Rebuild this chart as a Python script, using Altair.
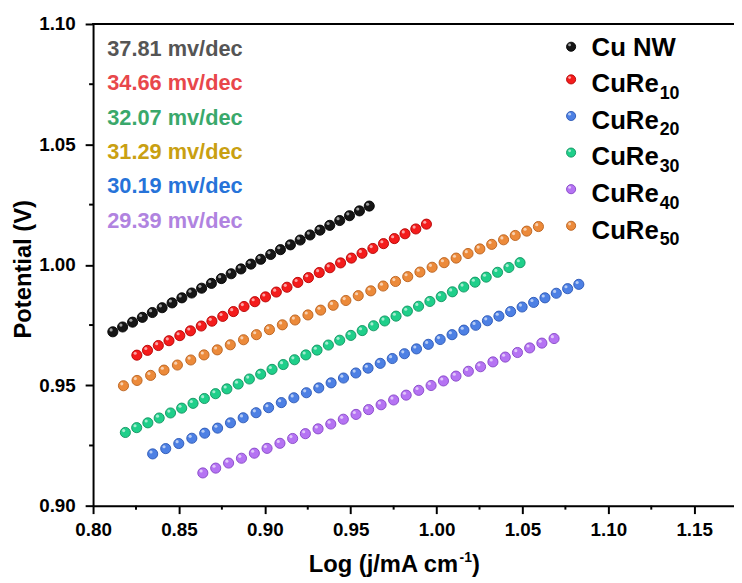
import altair as alt
import pandas as pd

# ---------------- data ----------------
cunw_x = [0.8115, 0.8172, 0.8230, 0.8287, 0.8345, 0.8402, 0.8460, 0.8517, 0.8574, 0.8632,
          0.8689, 0.8747, 0.8804, 0.8861, 0.8919, 0.8976, 0.9034, 0.9091, 0.9149, 0.9206,
          0.9263, 0.9321, 0.9378, 0.9436, 0.9493, 0.9551, 0.9608]
cunw_y = [0.9722, 0.9742, 0.9762, 0.9782, 0.9802, 0.9822, 0.9842, 0.9863, 0.9883, 0.9903,
          0.9923, 0.9943, 0.9963, 0.9983, 1.0003, 1.0023, 1.0043, 1.0063, 1.0083, 1.0103,
          1.0124, 1.0144, 1.0164, 1.0184, 1.0204, 1.0224, 1.0244]

cure10_x = [0.8255, 0.8317, 0.8380, 0.8442, 0.8505, 0.8567, 0.8630, 0.8692, 0.8755, 0.8817,
            0.8879, 0.8942, 0.9004, 0.9067, 0.9129, 0.9192, 0.9254, 0.9317, 0.9379, 0.9441,
            0.9504, 0.9566, 0.9629, 0.9691, 0.9754, 0.9816, 0.9879, 0.9941]
cure10_y = [0.9625, 0.9645, 0.9665, 0.9685, 0.9706, 0.9726, 0.9746, 0.9766, 0.9786, 0.9806,
            0.9827, 0.9847, 0.9867, 0.9887, 0.9907, 0.9927, 0.9947, 0.9968, 0.9988, 1.0008,
            1.0028, 1.0048, 1.0068, 1.0088, 1.0109, 1.0129, 1.0149, 1.0169]

cure20_x = [0.8347, 0.8423, 0.8499, 0.8575, 0.8650, 0.8725, 0.8800, 0.8874, 0.8949, 0.9022,
            0.9096, 0.9169, 0.9242, 0.9314, 0.9386, 0.9458, 0.9530, 0.9601, 0.9672, 0.9742,
            0.9813, 0.9883, 0.9952, 1.0021, 1.0090, 1.0159, 1.0228, 1.0296, 1.0363, 1.0431,
            1.0498, 1.0565, 1.0631, 1.0697, 1.0763, 1.0828]
cure20_y = [0.9215, 0.9237, 0.9258, 0.9280, 0.9301, 0.9322, 0.9344, 0.9365, 0.9386, 0.9407,
            0.9428, 0.9448, 0.9469, 0.9489, 0.9510, 0.9530, 0.9551, 0.9571, 0.9591, 0.9611,
            0.9631, 0.9651, 0.9670, 0.9690, 0.9710, 0.9729, 0.9749, 0.9768, 0.9787, 0.9806,
            0.9825, 0.9844, 0.9863, 0.9882, 0.9901, 0.9919]

cure30_x = [0.8188, 0.8254, 0.8319, 0.8385, 0.8451, 0.8516, 0.8582, 0.8648, 0.8713, 0.8779,
            0.8845, 0.8910, 0.8976, 0.9042, 0.9107, 0.9173, 0.9239, 0.9304, 0.9370, 0.9436,
            0.9501, 0.9567, 0.9633, 0.9698, 0.9764, 0.9830, 0.9895, 0.9961, 1.0027, 1.0092,
            1.0158, 1.0224, 1.0289, 1.0355, 1.0421, 1.0486]
cure30_y = [0.9304, 0.9324, 0.9344, 0.9364, 0.9385, 0.9405, 0.9425, 0.9445, 0.9465, 0.9485,
            0.9505, 0.9526, 0.9546, 0.9566, 0.9586, 0.9606, 0.9626, 0.9646, 0.9667, 0.9687,
            0.9707, 0.9727, 0.9747, 0.9767, 0.9787, 0.9808, 0.9828, 0.9848, 0.9868, 0.9888,
            0.9908, 0.9928, 0.9949, 0.9969, 0.9989, 1.0009]

cure40_x = [0.8639, 0.8714, 0.8789, 0.8864, 0.8939, 0.9013, 0.9088, 0.9162, 0.9236, 0.9310,
            0.9384, 0.9457, 0.9531, 0.9604, 0.9677, 0.9750, 0.9823, 0.9896, 0.9968, 1.0040,
            1.0113, 1.0185, 1.0256, 1.0328, 1.0400, 1.0471, 1.0542, 1.0613, 1.0684]
cure40_y = [0.9136, 0.9156, 0.9177, 0.9197, 0.9218, 0.9238, 0.9259, 0.9279, 0.9299, 0.9319,
            0.9339, 0.9359, 0.9379, 0.9399, 0.9419, 0.9439, 0.9459, 0.9479, 0.9499, 0.9518,
            0.9538, 0.9558, 0.9577, 0.9597, 0.9617, 0.9636, 0.9655, 0.9675, 0.9694]

cure50_x = [0.8177, 0.8256, 0.8335, 0.8413, 0.8491, 0.8569, 0.8646, 0.8723, 0.8799, 0.8876,
            0.8951, 0.9027, 0.9102, 0.9176, 0.9251, 0.9325, 0.9398, 0.9472, 0.9544, 0.9617,
            0.9689, 0.9761, 0.9832, 0.9903, 0.9974, 1.0044, 1.0114, 1.0183, 1.0252, 1.0321,
            1.0390, 1.0458, 1.0525, 1.0593]
cure50_y = [0.9498, 0.9520, 0.9541, 0.9563, 0.9584, 0.9605, 0.9626, 0.9647, 0.9668, 0.9689,
            0.9710, 0.9731, 0.9751, 0.9771, 0.9792, 0.9812, 0.9832, 0.9852, 0.9872, 0.9892,
            0.9912, 0.9931, 0.9951, 0.9970, 0.9990, 1.0009, 1.0028, 1.0047, 1.0066, 1.0085,
            1.0104, 1.0122, 1.0140, 1.0159]

series_names = ["Cu NW", "CuRe10", "CuRe20", "CuRe30", "CuRe40", "CuRe50"]
series_fill = ["#161616", "#f41c1c", "#4d80e4", "#1fcf8a", "#b573f3", "#ec8a3a"]
series_edge = ["#000000", "#b30000", "#2a56b3", "#10925f", "#8445c6", "#b8601c"]
legend_main = ["Cu NW", "CuRe", "CuRe", "CuRe", "CuRe", "CuRe"]
legend_sub = ["", "10", "20", "30", "40", "50"]

slope_labels = ["37.81 mv/dec", "34.66 mv/dec", "32.07 mv/dec",
                "31.29 mv/dec", "30.19 mv/dec", "29.39 mv/dec"]
slope_colors = ["#555555", "#e8474b", "#3aa86b", "#c9a012", "#2673d9", "#b083e0"]

x_ticks = [0.80, 0.85, 0.90, 0.95, 1.00, 1.05, 1.10, 1.15]
x_minor = [0.825, 0.875, 0.925, 0.975, 1.025, 1.075, 1.125]
y_ticks = [0.90, 0.95, 1.00, 1.05, 1.10]
y_minor = [0.925, 0.975, 1.025, 1.075]

x_title = "Log (j/mA cm"
x_title_sup = "-1"
x_title_end = ")"
y_title = "Potential (V)"

# ---------------- chart ----------------
FONT = "Liberation Sans, Arial, Helvetica, sans-serif"
W, H = 648, 487
X_DOMAIN = [0.80, 0.80 + W / 1736.5]
Y_DOMAIN = [0.90, 1.10]

xs = [cunw_x, cure10_x, cure20_x, cure30_x, cure40_x, cure50_x]
ys = [cunw_y, cure10_y, cure20_y, cure30_y, cure40_y, cure50_y]
rows = []
for name, xv, yv in zip(series_names, xs, ys):
    for a, b in zip(xv, yv):
        rows.append({"series": name, "x": a, "y": b})
df = pd.DataFrame(rows)

xscale = alt.Scale(domain=X_DOMAIN, nice=False, zero=False)
yscale = alt.Scale(domain=Y_DOMAIN, nice=False, zero=False)

axis_common = dict(tickSize=8, tickWidth=2, tickColor="black", domainWidth=2,
                   domainColor="black", labelFontSize=19, labelFontWeight="bold",
                   labelFont=FONT, labelColor="black", grid=False, title=None,
                   labelFlush=False, labelOverlap=False, format=".2f")

x_enc = alt.X("x:Q", scale=xscale, axis=alt.Axis(values=x_ticks, labelPadding=7, **axis_common))
y_enc = alt.Y("y:Q", scale=yscale, axis=alt.Axis(values=y_ticks, labelPadding=10, **axis_common))

fill_scale = alt.Scale(domain=series_names, range=series_fill)
edge_scale = alt.Scale(domain=series_names, range=series_edge)

base_pts = alt.Chart(df).mark_circle(size=105, opacity=1, strokeWidth=0.9).encode(
    x=x_enc, y=y_enc,
    color=alt.Color("series:N", scale=fill_scale, legend=None),
    stroke=alt.Stroke("series:N", scale=edge_scale, legend=None),
)
hi_pts = alt.Chart(df).mark_circle(size=10, color="white", opacity=0.6,
                                   xOffset=-1.7, yOffset=-1.9).encode(
    x=alt.X("x:Q", scale=xscale), y=alt.Y("y:Q", scale=yscale))

one = pd.DataFrame({"a": [0]})
top_spine = alt.Chart(one).mark_rule(color="black", strokeWidth=2).encode(
    x=alt.value(-1), x2=alt.value(W + 2), y=alt.value(0))

xminor = alt.Chart(pd.DataFrame({"x": x_minor})).mark_rule(color="black", strokeWidth=2).encode(
    x=alt.X("x:Q", scale=xscale), y=alt.value(H), y2=alt.value(H + 4))
yminor = alt.Chart(pd.DataFrame({"y": y_minor})).mark_rule(color="black", strokeWidth=2).encode(
    y=alt.Y("y:Q", scale=yscale), x=alt.value(-4), x2=alt.value(0))

layers = [base_pts, hi_pts, top_spine, xminor, yminor]

# slope annotations
for i, (lab, col) in enumerate(zip(slope_labels, slope_colors)):
    layers.append(alt.Chart(pd.DataFrame({"t": [lab]})).mark_text(
        align="left", baseline="alphabetic", fontSize=22, fontWeight="bold",
        font=FONT, color=col).encode(
        text="t:N", x=alt.value(14.3), y=alt.value(32.3 + 34.7 * i)))

# legend
for i, (name, main, sub, fc, ec) in enumerate(zip(series_names, legend_main, legend_sub,
                                                  series_fill, series_edge)):
    my = 23 if i == 0 else 19 + 37 * i
    base_y = my + 9.5 if i == 0 else my + 13
    layers.append(alt.Chart(one).mark_circle(size=85, color=fc, opacity=1, stroke=ec,
                                             strokeWidth=0.9).encode(
        x=alt.value(483.3), y=alt.value(my)))
    layers.append(alt.Chart(one).mark_circle(size=8, color="white", opacity=0.6).encode(
        x=alt.value(481.8), y=alt.value(my - 1.8)))
    layers.append(alt.Chart(pd.DataFrame({"t": [main]})).mark_text(
        align="left", baseline="alphabetic", fontSize=26, fontWeight="bold",
        font=FONT, color="black").encode(text="t:N", x=alt.value(504), y=alt.value(base_y)))
    if sub:
        layers.append(alt.Chart(pd.DataFrame({"t": [sub]})).mark_text(
            align="left", baseline="alphabetic", fontSize=18, fontWeight="bold",
            font=FONT, color="black").encode(
            text="t:N", x=alt.value(504 + 2.611 * 26 + 1), y=alt.value(base_y + 6.7)))

# axis titles
layers.append(alt.Chart(pd.DataFrame({"t": [y_title]})).mark_text(
    align="center", baseline="middle", angle=270, fontSize=24, fontWeight="bold",
    font=FONT, color="black").encode(text="t:N", x=alt.value(-70), y=alt.value(248)))

tx0 = 218
main_w = 6.334 * 24
layers.append(alt.Chart(pd.DataFrame({"t": [x_title]})).mark_text(
    align="left", baseline="alphabetic", fontSize=24, fontWeight="bold",
    font=FONT, color="black").encode(text="t:N", x=alt.value(tx0), y=alt.value(554)))
layers.append(alt.Chart(pd.DataFrame({"t": [x_title_sup]})).mark_text(
    align="left", baseline="alphabetic", fontSize=14, fontWeight="bold",
    font=FONT, color="black").encode(text="t:N", x=alt.value(tx0 + main_w + 0.5),
                                      y=alt.value(544)))
layers.append(alt.Chart(pd.DataFrame({"t": [x_title_end]})).mark_text(
    align="left", baseline="alphabetic", fontSize=24, fontWeight="bold",
    font=FONT, color="black").encode(text="t:N", x=alt.value(tx0 + main_w + 13),
                                      y=alt.value(554)))

chart = alt.layer(*layers).properties(
    width=W, height=H,
    autosize=alt.AutoSizeParams(type="none"),
    padding={"left": 86, "top": 13, "right": 0, "bottom": 75},
).configure_view(stroke=None).configure(background="white")

chart.save("out.html", embed_options={"renderer": "svg", "actions": False})
